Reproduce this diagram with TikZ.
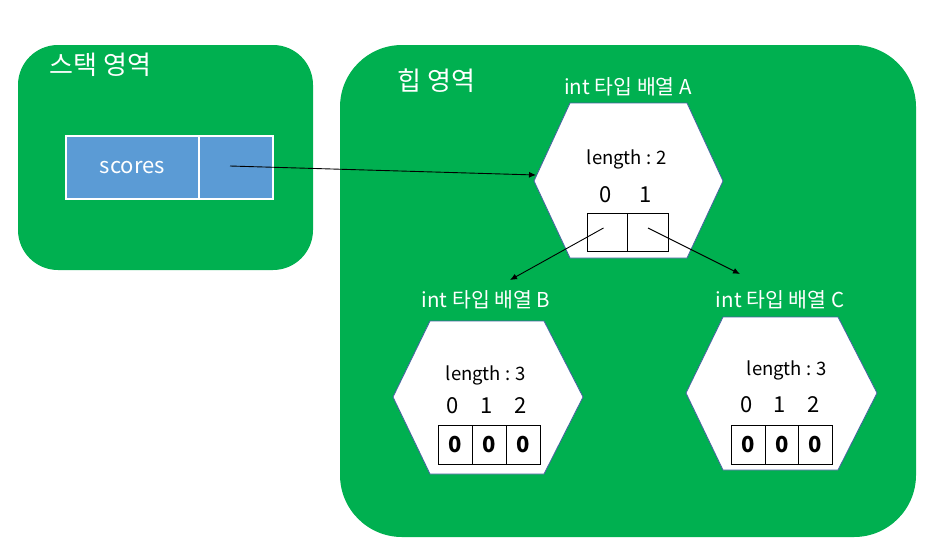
\documentclass[tikz,border=0pt]{standalone}
\usepackage{fontspec}
\setmainfont{Noto Sans CJK KR}
\usepackage{xcolor}
\usetikzlibrary{arrows.meta}

\definecolor{areagreen}{RGB}{0,176,80}
\definecolor{slotblue}{RGB}{91,155,213}
\definecolor{hexline}{RGB}{70,98,160}

\begin{document}
\begin{tikzpicture}[x=1pt,y=-1pt,
  area/.style={fill=areagreen,draw=none},
  arealabel/.style={text=white,anchor=west,font=\fontsize{26}{28}\selectfont},
  hexlabel/.style={text=white,font=\fontsize{20.5}{22}\selectfont},
  hexbody/.style={fill=white,draw=hexline,line width=0.8pt},
  lenlabel/.style={font=\fontsize{18.5}{20}\selectfont},
  idxlabel/.style={font=\fontsize{22}{24}\selectfont},
  slot/.style={fill=slotblue,draw=white,line width=1.2pt,minimum height=63pt,inner sep=0pt,
    text=white,font=\fontsize{22}{24}\selectfont},
  cell/.style={draw=black,line width=0.8pt,minimum height=38pt,inner sep=0pt,
    font=\bfseries\fontsize{22}{24}\selectfont},
  ptr/.style={-{Latex[length=7pt,width=6pt]},line width=0.9pt}]

\useasboundingbox (0,0) rectangle (936,554);

% stack and heap areas
\fill[area,rounded corners=40pt] (18,45) rectangle (313,270);
\node[arealabel] (stacklab) at (46,65) {스택 영역};
\fill[area,rounded corners=62pt] (340,45) rectangle (916,537);
\node[arealabel] (heaplab) at (394,81) {힙 영역};

% variable scores
\node[slot,minimum width=133pt] (scores) at (132.5,167.5) {\raisebox{-3pt}{scores}};
\node[slot,minimum width=74pt] (ref) at (236,167.5) {};

% array A
\node[hexlabel] (labA) at (628,87) {int 타입 배열 A};
\draw[hexbody] (570,103) -- (687,103) -- (723,181) -- (687,258) -- (570,258) -- (534,181) -- cycle;
\coordinate (hexA) at (536,175);
\node[lenlabel] (lenA) at (627,159) {length : 2};
\foreach \i/\x in {0/607.5,1/648} {
  \node[idxlabel] (idxA\i) at (\x-2,195) {\i};
  \node[cell,minimum width=40.5pt] (cellA\i) at (\x,232) {};
}

% array B
\node[hexlabel] (labB) at (486,300) {int 타입 배열 B};
\draw[hexbody] (430,321) -- (544,321) -- (583,397) -- (544,474) -- (430,474) -- (393,397) -- cycle;
\node[lenlabel] (lenB) at (486,375) {length : 3};
\foreach \i/\x in {0/455,1/489,2/523} {
  \node[idxlabel] (idxB\i) at (\x-2,406) {\i};
  \node[cell,minimum width=34pt,minimum height=39pt] (cellB\i) at (\x,444.5) {0};
}

% array C
\node[hexlabel] (labC) at (780,300) {int 타입 배열 C};
\draw[hexbody] (723,317) -- (838,317) -- (877,393) -- (838,470) -- (723,470) -- (686,393) -- cycle;
\node[lenlabel] (lenC) at (787,370) {length : 3};
\foreach \i/\x in {0/748.5,1/782,2/815.5} {
  \node[idxlabel] (idxC\i) at (\x-2,405) {\i};
  \node[cell,minimum width=33.5pt,minimum height=39pt] (cellC\i) at (\x,444.5) {0};
}

% references
\coordinate (tipB) at (510,280);
\coordinate (tipC) at (740,274);
\draw[ptr] ([xshift=-6pt,yshift=1.5pt]ref.center) -- (hexA);
\draw[ptr] ([xshift=-4pt,yshift=4pt]cellA0.center) -- (tipB);
\draw[ptr] ([yshift=4pt]cellA1.center) -- (tipC);

\end{tikzpicture}
\end{document}
